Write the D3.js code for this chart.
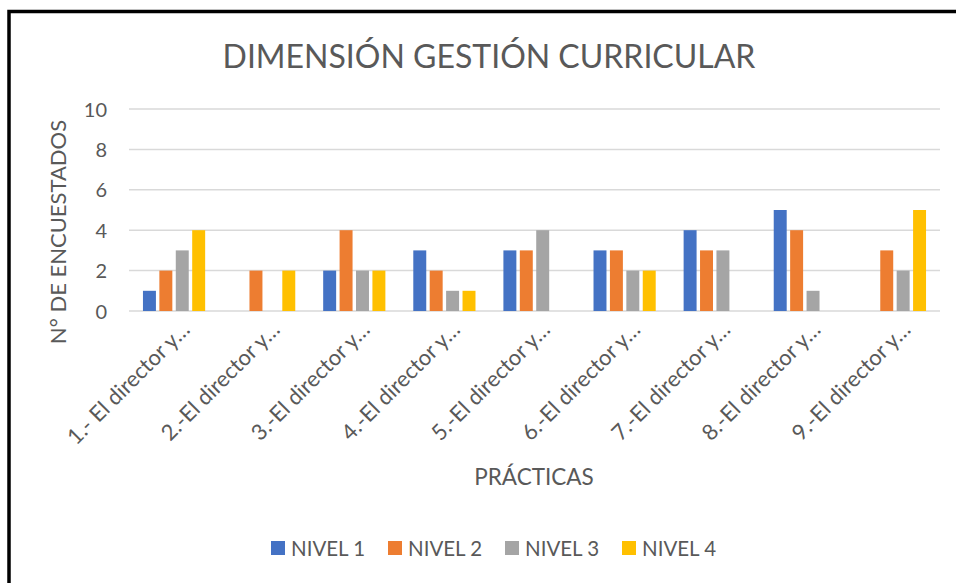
<html>
<head>
<script src="https://d3js.org/d3.v7.min.js"></script>
<style>
  body { margin: 0; background: #fff; }
  text { font-family: Lato, "Open Sans", sans-serif; fill: #595959; }
</style>
</head>
<body>
<script>
// data
var categorias = ["1.- El director y…", "2.-El director y…", "3.-El director y…", "4.-El director y…",
                  "5.-El director y…", "6.-El director y…", "7.-El director y…", "8.-El director y…", "9.-El director y…"];
var series = ["NIVEL 1", "NIVEL 2", "NIVEL 3", "NIVEL 4"];
var nivel1 = [1, 0, 2, 3, 3, 3, 4, 5, 0];
var nivel2 = [2, 2, 4, 2, 3, 3, 3, 4, 3];
var nivel3 = [3, 0, 2, 1, 4, 2, 3, 1, 2];
var nivel4 = [4, 2, 2, 1, 0, 2, 0, 0, 5];
var colores = ["#4472C4", "#ED7D31", "#A5A5A5", "#FFC000"];
var yTicks = [0, 2, 4, 6, 8, 10];

var valores = [nivel1, nivel2, nivel3, nivel4];
var w = 956, h = 583;
var pLeft = 129, pRight = 940, pTop = 109, pBottom = 311; // area del grafico

var svg = d3.select("body").append("svg").attr("width", w).attr("height", h);

// marco negro
svg.append("rect").attr("x", 9).attr("y", 11.5).attr("width", 960).attr("height", 600)
  .attr("fill", "none").attr("stroke", "#000").attr("stroke-width", 3.5);

var x0 = d3.scaleBand().domain(categorias).range([pLeft, pRight]).padding(0);
var bw = x0.bandwidth();
var x1 = d3.scaleBand().domain(series).range([bw / 2 - 31.1, bw / 2 + 31.1]).paddingInner(0.21);
var y = d3.scaleLinear().domain([0, 10]).range([pBottom, pTop]);

// rejilla
svg.append("g").selectAll("line").data(yTicks).enter().append("line")
  .attr("x1", pLeft).attr("x2", pRight)
  .attr("y1", function(d){ return y(d); }).attr("y2", function(d){ return y(d); })
  .attr("stroke", "#D9D9D9").attr("stroke-width", 1.5);

// eje y
var yAxis = d3.axisLeft(y).tickValues(yTicks).tickSize(0).tickPadding(0);
var gy = svg.append("g").attr("transform", "translate(107,0)").call(yAxis);
gy.select(".domain").remove();
gy.selectAll("text").style("font-size", "20px").style("font-family", "Lato, sans-serif")
  .attr("fill", "#595959").attr("dy", "0.35em");

// barras
var grupos = svg.append("g").selectAll("g").data(categorias).enter().append("g")
  .attr("transform", function(d){ return "translate(" + x0(d) + ",0)"; });
grupos.selectAll("rect").data(function(d, i){
    return series.map(function(s, j){ return { s: s, v: valores[j][i], c: colores[j] }; });
  }).enter().append("rect")
  .attr("x", function(d){ return x1(d.s); })
  .attr("y", function(d){ return y(d.v); })
  .attr("width", x1.bandwidth())
  .attr("height", function(d){ return y(0) - y(d.v); })
  .attr("fill", function(d){ return d.c; });

// etiquetas eje x
var xAxis = d3.axisBottom(x0).tickSize(0).tickPadding(0);
var gx = svg.append("g").attr("transform", "translate(0," + pBottom + ")").call(xAxis);
gx.select(".domain").remove();
gx.selectAll("text")
  .style("font-size", "22px").style("font-family", "Lato, sans-serif").attr("fill", "#595959")
  .attr("text-anchor", "end").attr("y", 0).attr("dy", 0)
  .attr("transform", "translate(17,20) rotate(-45)");

// titulos
svg.append("text").attr("x", 489).attr("y", 68).attr("text-anchor", "middle")
  .style("font-size", "32px").text("DIMENSIÓN GESTIÓN CURRICULAR");
svg.append("text").attr("transform", "translate(66,232) rotate(-90)").attr("text-anchor", "middle")
  .style("font-size", "22px").text("N° DE ENCUESTADOS");
svg.append("text").attr("x", 534).attr("y", 485).attr("text-anchor", "middle")
  .style("font-size", "22.5px").text("PRÁCTICAS");

// leyenda
var ley = svg.append("g").selectAll("g").data(series).enter().append("g")
  .attr("transform", function(d, i){ return "translate(" + (271 + i * 117) + ",541)"; });
ley.append("rect").attr("width", 14).attr("height", 14)
  .attr("fill", function(d, i){ return colores[i]; });
ley.append("text").attr("x", 20).attr("y", 15).style("font-size", "20.5px").text(function(d){ return d; });
</script>
</body>
</html>
